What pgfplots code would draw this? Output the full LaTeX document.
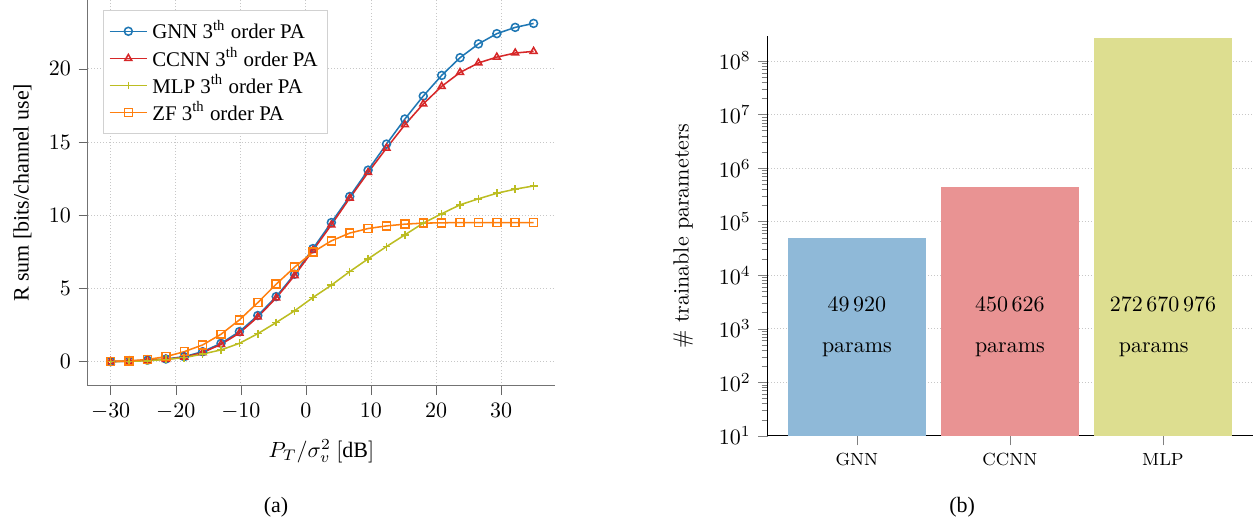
\documentclass[border=0pt]{standalone}
\usepackage{fontspec}
\setmainfont{Liberation Serif}
\usepackage{pgfplots}
\usepackage{pgfplotstable}
\pgfplotsset{compat=1.18}
\definecolor{cblue}{RGB}{31,119,180}
\definecolor{cred}{RGB}{214,39,40}
\definecolor{colive}{RGB}{188,189,34}
\definecolor{corange}{RGB}{255,127,14}
\definecolor{bblue}{RGB}{143,185,216}
\definecolor{bred}{RGB}{233,147,147}
\definecolor{bolive}{RGB}{221,222,144}
\pgfplotstableread{
x gnn ccnn mlp zf
-30 0.00 0.00 0.00 0.02
-27.174 0.04 0.03 0.02 0.05
-24.348 0.10 0.09 0.06 0.15
-21.522 0.18 0.16 0.15 0.34
-18.696 0.34 0.30 0.27 0.68
-15.870 0.68 0.62 0.52 1.14
-13.043 1.25 1.18 0.80 1.87
-10.217 2.05 1.95 1.25 2.85
-7.391 3.15 3.05 1.91 4.03
-4.565 4.44 4.35 2.67 5.29
-1.739 5.97 5.88 3.47 6.45
1.087 7.72 7.60 4.38 7.48
3.913 9.50 9.34 5.22 8.25
6.739 11.28 11.17 6.15 8.78
9.565 13.08 12.92 7.02 9.09
12.391 14.86 14.58 7.86 9.27
15.217 16.57 16.18 8.66 9.39
18.043 18.14 17.60 9.46 9.46
20.870 19.55 18.80 10.10 9.48
23.696 20.76 19.75 10.71 9.50
26.522 21.70 20.40 11.12 9.50
29.348 22.40 20.80 11.50 9.50
32.174 22.83 21.08 11.78 9.50
35 23.10 21.19 12.00 9.50
}\rsum
\begin{document}
\begin{tikzpicture}
\path[use as bounding box] (0,0) rectangle (570pt,240.7pt);
\begin{axis}[
  at={(40pt,65.2pt)}, anchor=south west,
  scale only axis, width=212.5pt, height=175.5pt,
  xmin=-33.5, xmax=38.3, ymin=-1.65, ymax=24.7,
  axis x line*=bottom, axis y line*=left,
  axis line style={black!55},
  tick align=outside, tick style={black!60},
  xtick={-30,-20,...,30}, ytick={0,5,...,20},
  grid=major, grid style={densely dotted, black!22},
  xlabel={$P_T/\sigma_v^2\ [\mathrm{dB}]$},
  xlabel style={yshift=-2.5pt},
  ylabel={R sum [bits/channel use]},
  ylabel style={yshift=1pt},
  legend cell align=left,
  legend style={at={(0.032,0.974)}, anchor=north west, draw=black!18, fill=white,
    font=\fontsize{9.5}{10}\selectfont, row sep=-1.6pt, inner sep=2.5pt},
  every axis plot/.append style={line width=0.7pt, mark size=1.8pt},
]
\addplot[cblue, mark=o] table[x=x,y=gnn]{\rsum};
\addlegendentry{GNN 3$^{\mathrm{th}}$ order PA}
\addplot[cred, mark=triangle] table[x=x,y=ccnn]{\rsum};
\addlegendentry{CCNN 3$^{\mathrm{th}}$ order PA}
\addplot[colive, mark=+] table[x=x,y=mlp]{\rsum};
\addlegendentry{MLP 3$^{\mathrm{th}}$ order PA}
\addplot[corange, mark=square] table[x=x,y=zf]{\rsum};
\addlegendentry{ZF 3$^{\mathrm{th}}$ order PA}
\end{axis}
\begin{axis}[
  at={(349.3pt,42.4pt)}, anchor=south west,
  scale only axis, width=220.7pt, height=182pt,
  ymode=log, log origin=infty,
  xmin=-0.582, xmax=2.589, ymin=10, ymax=2.95e8,
  axis x line*=bottom, axis y line*=left,
  tick align=outside,
  xtick={0,1,2}, xticklabels={GNN,CCNN,MLP},
  xticklabel style={font=\footnotesize\fontfamily{lmr}\selectfont},
  ytick={10,100,1000,10000,100000,1000000,10000000,100000000},
  ymajorgrids, grid style={densely dotted, black!22},
  ylabel={\fontfamily{lmr}\selectfont \# trainable parameters},
  ylabel style={yshift=5pt},
]
\addplot[ybar, bar width=0.902, bar shift=0pt, fill=bblue, draw=none] coordinates {(0,49920)};
\addplot[ybar, bar width=0.902, bar shift=0pt, fill=bred, draw=none] coordinates {(1,450626)};
\addplot[ybar, bar width=0.902, bar shift=0pt, fill=bolive, draw=none] coordinates {(2,272670976)};
\node at (axis cs:0,2900) {$49\,920$};
\node at (axis cs:0,400) {\fontfamily{lmr}\selectfont params};
\node at (axis cs:1,2900) {$450\,626$};
\node at (axis cs:1,400) {\fontfamily{lmr}\selectfont params};
\node at (axis cs:2,2900) {$272\,670\,976$};
\node at (axis cs:1.94,400) {\fontfamily{lmr}\selectfont params};
\end{axis}
\node at (125.6pt,10pt) {(a)};
\node at (437.7pt,10pt) {(b)};
\end{tikzpicture}
\end{document}
